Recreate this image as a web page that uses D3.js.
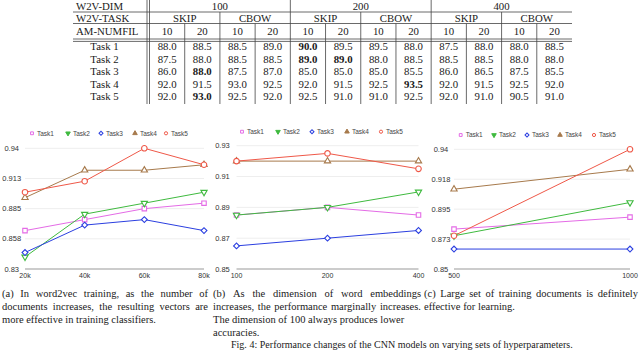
<!DOCTYPE html>
<html><head><meta charset="utf-8">
<script src="https://cdn.jsdelivr.net/npm/d3@7"></script>
<style>body{margin:0;background:#fff}svg{display:block}</style>
</head><body>
<svg id="c" width="640" height="351"></svg>
<script>
// ---------- TABLE DATA ----------
const dims = ["100", "200", "400"];
const w2vTasks = ["SKIP", "CBOW"];
const numFil = ["10", "20"];
const taskRows = ["Task 1", "Task 2", "Task 3", "Task 4", "Task 5"];
const tableValues = [
  [88.0, 88.5, 88.5, 89.0, 90.0, 89.5, 89.5, 88.0, 87.5, 88.0, 88.0, 88.5],
  [87.5, 88.0, 88.5, 88.5, 89.0, 89.0, 88.0, 88.5, 88.5, 88.5, 88.0, 88.0],
  [86.0, 88.0, 87.5, 87.0, 85.0, 85.0, 85.0, 85.5, 86.0, 86.5, 87.5, 85.5],
  [92.0, 91.5, 93.0, 92.5, 92.0, 91.5, 92.5, 93.5, 92.0, 91.5, 92.5, 92.0],
  [92.0, 93.0, 92.5, 92.0, 92.5, 91.0, 91.0, 92.5, 92.0, 91.0, 90.5, 91.0]
];
const boldCells = [[0, 4], [1, 4], [1, 5], [2, 1], [3, 7], [4, 1]];

// ---------- CHART DATA ----------
const seriesNames = ["Task1", "Task2", "Task3", "Task4", "Task5"];
// (a) number of documents
const aX = ["20k", "40k", "60k", "80k"];
const aTask1 = [0.865, 0.875, 0.885, 0.89];
const aTask2 = [0.841, 0.88, 0.89, 0.90];
const aTask3 = [0.845, 0.87, 0.875, 0.865];
const aTask4 = [0.895, 0.92, 0.92, 0.925];
const aTask5 = [0.90, 0.91, 0.94, 0.925];
const aTicks = [0.83, 0.8575, 0.885, 0.9125, 0.94];
const aTickLabels = ["0.83", "0.858", "0.885", "0.913", "0.94"];
// (b) embedding dimension
const bX = ["100", "200", "400"];
const bTask1 = [0.885, 0.89, 0.885];
const bTask2 = [0.885, 0.89, 0.90];
const bTask3 = [0.865, 0.87, 0.875];
const bTask4 = [0.92, 0.92, 0.92];
const bTask5 = [0.92, 0.925, 0.915];
const bTicks = [0.85, 0.87, 0.89, 0.91, 0.93];
const bTickLabels = ["0.85", "0.87", "0.89", "0.91", "0.93"];
// (c) training documents
const cX = ["500", "1000"];
const cTask1 = [0.88, 0.889];
const cTask2 = [0.875, 0.90];
const cTask3 = [0.865, 0.865];
const cTask4 = [0.91, 0.925];
const cTask5 = [0.875, 0.94];
const cTicks = [0.85, 0.8725, 0.895, 0.9175, 0.94];
const cTickLabels = ["0.85", "0.873", "0.895", "0.918", "0.94"];

const captionA = ["(a) In word2vec training, as the number of", "documents increases, the resulting vectors are", "more effective in training classifiers."];
const captionB = ["(b) As the dimension of word embeddings", "increases, the performance marginally increases.", "The dimension of 100 always produces lower", "accuracies."];
const captionC = ["(c) Large set of training documents is definitely", "effective for learning."];
const figCaption = "Fig. 4: Performance changes of the CNN models on varying sets of hyperparameters.";

// ---------- STYLE ----------
const colors = ["#e46be6", "#3fba3f", "#2b3fe0", "#a77a4c", "#ef5848"];
const serif = "'Liberation Serif','Times New Roman',serif";
const sans = "'Liberation Sans',Arial,sans-serif";

const svg = d3.select("#c");

// ---------- TABLE ----------
(function drawTable() {
  const g = svg.append("g");
  const x = d3.scaleBand().domain(d3.range(12)).range([149.5, 572]);
  const y = d3.scaleBand().domain(taskRows).range([40, 102.5]);
  const line = (x1, y1, x2, y2) => g.append("line").attr("x1", x1).attr("y1", y1).attr("x2", x2).attr("y2", y2)
    .attr("stroke", "#444").attr("stroke-width", 0.8);
  const left = 73, right = 572, bottom = 104;
  [12, 23.5, 39, 41.4].forEach(yy => line(left, yy, right, yy));
  line(147, 0, 147, bottom); line(149.5, 0, 149.5, bottom);
  [4, 8].forEach(i => line(x(i), 0, x(i), bottom));
  [2, 6, 10].forEach(i => line(x(i), 12, x(i), bottom));
  [1, 3, 5, 7, 9, 11].forEach(i => line(x(i), 23.5, x(i), bottom));
  const txt = (tx, ty, s, anchor, bold) => g.append("text").attr("x", tx).attr("y", ty).text(s)
    .attr("text-anchor", anchor || "middle").attr("font-family", serif).attr("font-size", 10.8)
    .attr("font-weight", bold ? "bold" : "normal").attr("fill", "#1a1a1a");
  txt(76, 9.5, "W2V-DIM", "start");
  txt(76, 21.5, "W2V-TASK", "start");
  txt(76, 35, "AM-NUMFIL", "start");
  dims.forEach((d, i) => txt(x(i * 4) + x.bandwidth() * 2, 9.5, d));
  dims.forEach((d, i) => w2vTasks.forEach((t, j) => txt(x(i * 4 + j * 2) + x.bandwidth(), 21.5, t)));
  d3.range(12).forEach(k => txt(x(k) + x.bandwidth() / 2, 35, numFil[k % 2]));
  taskRows.forEach((r, ri) => {
    const by = y(r) + y.bandwidth() / 2 + 3.8;
    txt(104.5, by, r);
    tableValues[ri].forEach((v, ci) => {
      const b = boldCells.some(c => c[0] === ri && c[1] === ci);
      txt(x(ci) + x.bandwidth() / 2, by, v.toFixed(1), "middle", b);
    });
  });
})();

// ---------- CHARTS ----------
function markerPath(k, size) {
  const types = [d3.symbolSquare, d3.symbolTriangle, d3.symbolSquare, d3.symbolTriangle, d3.symbolCircle];
  return d3.symbol().type(types[k]).size(size)();
}
function markerRot(k) { return k === 1 ? 180 : (k === 2 ? 45 : 0); }
const markerSizes = [20, 17, 17, 17, 24];

function drawChart(cfg) {
  const g = svg.append("g");
  const x = d3.scalePoint().domain(cfg.xLabels).range(cfg.xRange);
  const y = d3.scaleLinear().domain([cfg.ticks[0], cfg.ticks[cfg.ticks.length - 1]]).range(cfg.yRange);
  // grid
  g.selectAll(".grid").data(cfg.ticks.slice(1)).enter().append("line")
    .attr("x1", cfg.xRange[0]).attr("x2", cfg.xRange[1])
    .attr("y1", d => y(d)).attr("y2", d => y(d)).attr("stroke", "#eeeeee").attr("stroke-width", 1);
  g.append("line").attr("x1", cfg.xRange[0]).attr("x2", cfg.xRange[1])
    .attr("y1", y(cfg.ticks[0])).attr("y2", y(cfg.ticks[0])).attr("stroke", "#9a9a9a").attr("stroke-width", 1.2);
  // y labels
  g.selectAll(".yl").data(cfg.ticks).enter().append("text")
    .attr("x", cfg.yLabelX).attr("y", d => y(d)).attr("dy", "0.35em").attr("text-anchor", "middle")
    .attr("font-family", sans).attr("font-size", 7.5).attr("fill", "#333")
    .text((d, i) => cfg.tickLabels[i]);
  // x labels
  g.selectAll(".xl").data(cfg.xLabels).enter().append("text")
    .attr("x", d => x(d)).attr("y", 278).attr("text-anchor", "middle")
    .attr("font-family", sans).attr("font-size", 7).attr("fill", "#333").text(d => d);
  // series
  const ln = d3.line().x((d, i) => x(cfg.xLabels[i])).y(d => y(d));
  cfg.series.forEach((vals, k) => {
    g.append("path").datum(vals).attr("d", ln).attr("fill", "none")
      .attr("stroke", colors[k]).attr("stroke-width", 1);
  });
  cfg.series.forEach((vals, k) => {
    g.selectAll(null).data(vals).enter().append("path")
      .attr("d", markerPath(k, markerSizes[k]))
      .attr("transform", (d, i) => `translate(${x(cfg.xLabels[i])},${y(d)}) rotate(${markerRot(k)})`)
      .attr("fill", "#fff").attr("stroke", colors[k]).attr("stroke-width", 1.1);
  });
  // legend
  seriesNames.forEach((n, k) => {
    const lx = cfg.legendX[k], ly = cfg.legendY;
    const filled = (k === 1 || k === 3);
    g.append("path").attr("d", markerPath(k, filled ? 9 : 8))
      .attr("transform", `translate(${lx},${ly}) rotate(${markerRot(k)})`)
      .attr("fill", filled ? colors[k] : "#fff").attr("stroke", colors[k]).attr("stroke-width", 1);
    g.append("text").attr("x", lx + 5).attr("y", ly).attr("dy", "0.35em")
      .attr("font-family", sans).attr("font-size", 6.5).attr("fill", "#444").text(n);
  });
}

drawChart({ xLabels: aX, xRange: [25, 204], ticks: aTicks, tickLabels: aTickLabels, yRange: [269, 148.3],
  yLabelX: 11.7, series: [aTask1, aTask2, aTask3, aTask4, aTask5], legendY: 133.3, legendX: [32, 68, 101, 135, 166] });
drawChart({ xLabels: bX, xRange: [236.5, 418.5], ticks: bTicks, tickLabels: bTickLabels, yRange: [269, 145.7],
  yLabelX: 222.5, series: [bTask1, bTask2, bTask3, bTask4, bTask5], legendY: 131.7, legendX: [242, 278, 312, 347, 381] });
drawChart({ xLabels: cX, xRange: [454, 630], ticks: cTicks, tickLabels: cTickLabels, yRange: [269, 149.3],
  yLabelX: 441, series: [cTask1, cTask2, cTask3, cTask4, cTask5], legendY: 135, legendX: [460.7, 494, 527, 560, 594] });

// ---------- CAPTIONS ----------
function textLine(x0, x1, y, s, justify, fs) {
  const t = svg.append("text").attr("y", y).attr("font-family", serif).attr("font-size", fs || 10.5).attr("fill", "#1a1a1a");
  const words = s.split(" ");
  const spans = words.map(w => t.append("tspan").text(w));
  const widths = spans.map(sp => sp.node().getComputedTextLength());
  const total = d3.sum(widths);
  const natGap = 2.6;
  const gap = (justify && words.length > 1) ? (x1 - x0 - total) / (words.length - 1) : natGap;
  let cx = x0;
  spans.forEach((sp, i) => { sp.attr("x", cx); cx += widths[i] + gap; });
}
const capY = [296.5, 309.5, 322.5, 335.5];
captionA.forEach((s, i) => textLine(2, 208, capY[i], s, i < captionA.length - 1));
captionB.forEach((s, i) => textLine(213, 421, capY[i], s, i < 2));
captionC.forEach((s, i) => textLine(424, 638, capY[i], s, i < captionC.length - 1));
textLine(231, 640, 348, figCaption, false, 10);
</script>
</body></html>
